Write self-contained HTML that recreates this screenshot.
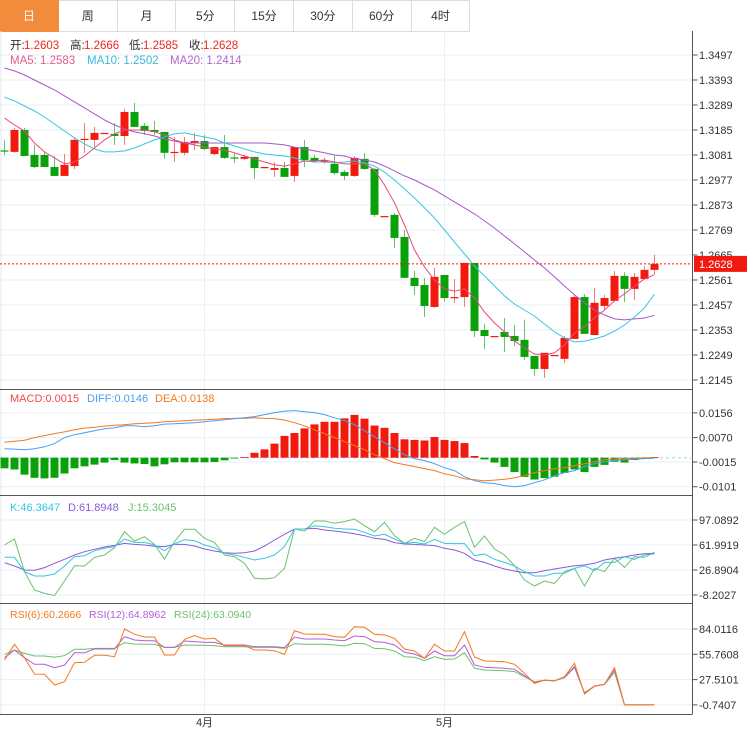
<!DOCTYPE html>
<html><head><meta charset="utf-8">
<style>
body{margin:0;background:#fff;width:747px;height:747px;overflow:hidden;font-family:"Liberation Sans","Noto Sans CJK SC",sans-serif;}
#tabs{position:absolute;left:0;top:0;height:31px;display:flex;}
.tab{width:57.8px;height:30px;border:1px solid #ddd;border-left:none;font-size:12px;line-height:30px;text-align:center;color:#333;}
.tab.on{background:#f38b3c;color:#fff;border-color:#f38b3c;}
svg{position:absolute;left:0;top:0;}
</style></head><body>
<div id="tabs">
<div class="tab on">日</div>
<div class="tab">周</div>
<div class="tab">月</div>
<div class="tab">5分</div>
<div class="tab">15分</div>
<div class="tab">30分</div>
<div class="tab">60分</div>
<div class="tab">4时</div>
</div>
<svg id="chart" width="747" height="747" style="top:0"></svg>
<script>
const opens=[1.3100,1.3094,1.3185,1.3081,1.3081,1.3031,1.2994,1.3035,1.3144,1.3144,1.3171,1.3169,1.3160,1.3260,1.3202,1.3185,1.3177,1.3092,1.3090,1.3131,1.3139,1.3085,1.3114,1.3071,1.3065,1.3073,1.3029,1.3019,1.3027,1.2994,1.3114,1.3069,1.3056,1.3044,1.3010,1.2994,1.3065,1.3023,1.2825,1.2832,1.2740,1.2570,1.2540,1.2449,1.2582,1.2488,1.2490,1.2632,1.2353,1.2326,1.2345,1.2328,1.2312,1.2245,1.2191,1.2247,1.2233,1.2316,1.2490,1.2332,1.2453,1.2474,1.2578,1.2524,1.2565,1.2603];
const closes=[1.3096,1.3185,1.3077,1.3031,1.3031,1.2994,1.3040,1.3144,1.3148,1.3173,1.3173,1.3160,1.3260,1.3198,1.3181,1.3177,1.3090,1.3094,1.3135,1.3139,1.3106,1.3114,1.3069,1.3069,1.3073,1.3027,1.3031,1.3027,1.2990,1.3114,1.3060,1.3056,1.3058,1.3006,1.2994,1.3069,1.3023,1.2832,1.2827,1.2736,1.2570,1.2536,1.2453,1.2574,1.2486,1.2490,1.2632,1.2349,1.2328,1.2328,1.2324,1.2307,1.2241,1.2191,1.2258,1.2249,1.2320,1.2490,1.2337,1.2466,1.2486,1.2578,1.2524,1.2574,1.2603,1.2628];
const highs=[1.3144,1.3194,1.3194,1.3123,1.3094,1.3077,1.3085,1.3156,1.3214,1.3198,1.3173,1.3214,1.3273,1.3298,1.3214,1.3223,1.3177,1.3156,1.3156,1.3173,1.3164,1.3114,1.3164,1.3090,1.3081,1.3073,1.3031,1.3052,1.3052,1.3114,1.3144,1.3081,1.3069,1.3081,1.3019,1.3077,1.3090,1.3027,1.2827,1.2840,1.2769,1.2599,1.2570,1.2611,1.2582,1.2565,1.2632,1.2632,1.2378,1.2328,1.2403,1.2374,1.2395,1.2245,1.2258,1.2249,1.2328,1.2499,1.2503,1.2528,1.2499,1.2599,1.2594,1.2590,1.2619,1.2666];
const lows=[1.3081,1.3090,1.3077,1.3027,1.3031,1.2994,1.2994,1.3023,1.3090,1.3114,1.3169,1.3123,1.3123,1.3198,1.3164,1.3164,1.3065,1.3052,1.3081,1.3102,1.3102,1.3081,1.3065,1.3048,1.3060,1.2981,1.3027,1.2990,1.2990,1.2969,1.3031,1.3048,1.3044,1.2998,1.2977,1.2990,1.3019,1.2823,1.2823,1.2694,1.2570,1.2499,1.2407,1.2445,1.2470,1.2466,1.2449,1.2324,1.2274,1.2324,1.2262,1.2287,1.2228,1.2162,1.2154,1.2245,1.2216,1.2316,1.2337,1.2332,1.2436,1.2474,1.2470,1.2478,1.2565,1.2585];
const ma5=[1.3235,1.3206,1.3181,1.3131,1.3094,1.3069,1.3044,1.3052,1.3077,1.3110,1.3144,1.3169,1.3185,1.3185,1.3185,1.3177,1.3164,1.3144,1.3131,1.3123,1.3114,1.3106,1.3102,1.3090,1.3077,1.3065,1.3052,1.3040,1.3035,1.3044,1.3056,1.3056,1.3060,1.3052,1.3044,1.3044,1.3044,1.3019,1.2956,1.2882,1.2790,1.2686,1.2615,1.2561,1.2524,1.2515,1.2524,1.2486,1.2428,1.2382,1.2345,1.2307,1.2278,1.2253,1.2249,1.2258,1.2291,1.2341,1.2366,1.2403,1.2436,1.2474,1.2503,1.2536,1.2565,1.2583];
const ma10=[1.3322,1.3306,1.3285,1.3264,1.3239,1.3210,1.3181,1.3152,1.3127,1.3106,1.3094,1.3094,1.3098,1.3110,1.3127,1.3144,1.3156,1.3169,1.3173,1.3164,1.3156,1.3148,1.3131,1.3119,1.3106,1.3094,1.3085,1.3081,1.3077,1.3069,1.3056,1.3052,1.3052,1.3048,1.3052,1.3056,1.3048,1.3035,1.3010,1.2977,1.2940,1.2902,1.2861,1.2819,1.2769,1.2719,1.2669,1.2619,1.2578,1.2536,1.2495,1.2461,1.2436,1.2411,1.2378,1.2345,1.2320,1.2303,1.2307,1.2316,1.2328,1.2349,1.2374,1.2407,1.2445,1.2502];
const ma20=[1.3443,1.3431,1.3414,1.3393,1.3372,1.3352,1.3327,1.3302,1.3277,1.3252,1.3227,1.3206,1.3189,1.3177,1.3169,1.3160,1.3148,1.3139,1.3131,1.3131,1.3131,1.3131,1.3131,1.3131,1.3131,1.3131,1.3131,1.3127,1.3123,1.3114,1.3106,1.3098,1.3090,1.3081,1.3077,1.3065,1.3060,1.3052,1.3035,1.3015,1.2994,1.2977,1.2956,1.2936,1.2911,1.2886,1.2861,1.2836,1.2807,1.2777,1.2744,1.2711,1.2678,1.2644,1.2611,1.2574,1.2536,1.2499,1.2466,1.2436,1.2416,1.2399,1.2395,1.2399,1.2403,1.2414];
const macdHist=[-0.0037,-0.0041,-0.0059,-0.0070,-0.0072,-0.0070,-0.0055,-0.0037,-0.0030,-0.0024,-0.0017,-0.0008,-0.0017,-0.0020,-0.0022,-0.0030,-0.0023,-0.0016,-0.0016,-0.0016,-0.0016,-0.0015,-0.0009,-0.0002,0.0002,0.0017,0.0029,0.0049,0.0076,0.0086,0.0102,0.0116,0.0125,0.0125,0.0137,0.0149,0.0136,0.0112,0.0104,0.0086,0.0064,0.0062,0.0060,0.0072,0.0062,0.0058,0.0051,0.0006,-0.0006,-0.0017,-0.0032,-0.0050,-0.0067,-0.0076,-0.0071,-0.0066,-0.0053,-0.0041,-0.0050,-0.0032,-0.0025,-0.0014,-0.0017,-0.0008,-0.0002,0.0002];
const diffVals=[0.0031,0.0030,0.0028,0.0031,0.0038,0.0049,0.0070,0.0080,0.0087,0.0094,0.0101,0.0104,0.0111,0.0111,0.0108,0.0111,0.0117,0.0118,0.0120,0.0122,0.0125,0.0129,0.0132,0.0136,0.0139,0.0143,0.0150,0.0157,0.0162,0.0164,0.0160,0.0157,0.0150,0.0139,0.0129,0.0115,0.0094,0.0073,0.0052,0.0031,0.0010,-0.0003,-0.0010,-0.0021,-0.0035,-0.0045,-0.0066,-0.0080,-0.0087,-0.0090,-0.0097,-0.0101,-0.0097,-0.0087,-0.0077,-0.0063,-0.0052,-0.0045,-0.0031,-0.0021,-0.0014,-0.0010,-0.0007,-0.0005,-0.0003,-0.0002];
const deaVals=[0.0054,0.0057,0.0061,0.0070,0.0077,0.0084,0.0090,0.0097,0.0103,0.0106,0.0110,0.0113,0.0115,0.0118,0.0120,0.0122,0.0125,0.0127,0.0129,0.0131,0.0132,0.0134,0.0136,0.0137,0.0137,0.0139,0.0137,0.0136,0.0131,0.0122,0.0111,0.0097,0.0084,0.0070,0.0056,0.0042,0.0028,0.0010,-0.0003,-0.0017,-0.0024,-0.0031,-0.0038,-0.0045,-0.0056,-0.0063,-0.0073,-0.0077,-0.0080,-0.0078,-0.0075,-0.0070,-0.0063,-0.0052,-0.0045,-0.0038,-0.0035,-0.0028,-0.0021,-0.0014,-0.0007,-0.0005,-0.0003,-0.0002,0,0];
const kVals=[44.7,44.7,24.6,18.5,18.5,21.3,32.5,45.6,47.0,54.0,57.3,59.7,70.4,65.7,65.7,62.0,54.0,63.4,69.5,68.1,62.0,58.2,50.3,47.9,44.7,40.9,43.3,47.9,59.7,84.5,84.5,89.1,87.7,85.4,84.5,84.0,79.8,74.6,77.0,70.4,64.3,65.7,63.4,69.9,64.3,63.9,63.9,47.0,49.4,41.9,37.6,32.5,24.6,18.5,18.5,22.2,22.2,29.2,33.0,26.0,37.6,37.6,45.6,41.9,47.9,49.8];
const dVals=[37.2,32.5,26.9,26.4,30.2,36.3,41.9,47.9,52.6,55.9,59.2,61.5,64.3,62.9,62.0,60.1,59.7,62.9,62.9,60.6,56.4,53.6,51.2,50.3,51.2,53.6,60.6,69.0,77.0,84.5,84.5,85.4,83.1,81.6,79.8,77.9,75.1,71.4,69.9,65.3,63.4,62.9,62.0,61.1,57.3,55.0,50.3,40.9,37.6,32.5,28.3,25.5,23.1,23.1,25.9,28.3,30.6,33.0,33.9,36.3,40.9,43.3,45.6,47.9,49.8,50.3];
const jVals=[62.0,70.4,24.6,-1.2,-5.9,-9.1,11.4,33.0,32.5,44.6,47.9,58.2,80.7,67.6,73.7,62.9,42.3,66.7,84.0,84.0,71.4,65.7,47.9,45.6,36.3,15.2,14.3,16.1,29.2,84.5,81.6,95.7,95.7,92.4,94.8,98.5,89.1,80.7,93.8,75.1,64.3,71.4,66.7,86.8,77.0,86.8,94.8,58.7,74.6,56.4,47.9,33.0,12.9,4.4,11.4,8.1,24.6,29.2,4.4,29.2,24.6,43.3,30.6,45.6,44.7,51.7];
const rsi6=[49.4,66.9,52.0,33.7,33.4,21.5,25.2,46.4,46.8,54.6,54.6,53.1,84.0,78.1,75.1,75.1,55.0,55.0,72.5,76.6,72.8,73.6,65.4,65.4,65.4,60.6,60.6,59.8,55.7,82.2,78.4,78.1,78.1,75.5,74.7,86.6,85.9,78.1,77.3,73.6,61.7,59.4,51.3,66.9,59.4,59.4,81.0,52.7,48.3,47.9,47.5,44.6,34.5,23.3,27.0,25.9,30.8,45.7,11.4,20.4,22.2,40.8,-0.74,-0.74,-0.74,-0.74];
const rsi12=[52.0,60.6,52.0,44.6,44.6,40.8,43.8,57.6,57.6,61.7,61.7,61.7,75.5,71.7,71.0,71.0,63.5,63.5,70.6,69.9,69.1,69.1,66.1,66.1,66.1,64.3,64.3,64.3,63.2,75.1,72.8,72.8,72.8,71.7,71.0,76.2,75.5,69.9,69.1,66.1,58.0,56.1,51.3,59.4,54.2,54.2,66.1,43.8,41.2,40.8,40.1,39.0,31.9,24.1,26.7,26.3,30.0,41.9,12.2,20.0,22.2,38.2,-0.74,-0.74,-0.74,-0.74];
const rsi24=[55.7,60.6,56.8,53.9,53.9,52.4,54.2,61.3,61.3,62.4,62.4,62.4,68.7,67.3,66.9,66.9,63.5,63.5,66.1,65.8,65.8,65.4,64.3,64.3,64.3,63.5,63.5,63.5,62.4,67.6,66.9,66.9,66.9,66.1,65.0,68.0,67.6,62.4,62.0,59.4,53.1,52.4,48.6,53.1,50.1,50.5,57.6,40.1,38.2,37.8,37.5,36.4,30.8,25.2,26.7,26.3,29.6,40.8,12.9,20.4,22.2,35.6,-0.74,-0.74,-0.74,-0.74];
const priceTicks=[1.3497,1.3393,1.3289,1.3185,1.3081,1.2977,1.2873,1.2769,1.2665,1.2561,1.2457,1.2353,1.2249,1.2145];
const macdTicks=[0.0156,0.0070,-0.0015,-0.0101];
const kdjTicks=[97.0892,61.9919,26.8904,-8.2027];
const rsiTicks=[84.0116,55.7608,27.5101,-0.7407];
const monthIdx=[20,44];
const monthLabels=["4月","5月"];
const lastPrice=1.2628;

const NS="http://www.w3.org/2000/svg";
const svg=document.getElementById('chart');
function el(tag,attrs,parent){const e=document.createElementNS(NS,tag);for(const k in attrs)e.setAttribute(k,attrs[k]);(parent||svg).appendChild(e);return e;}
const xC=i=>4.5+10*i;
const yP=p=>55+(1.3497-p)*25/0.0104;
const yM=v=>457.7-v*2872;
const yK=v=>520+(97.0892-v)*25/35.0973;
const yR=v=>629+(84.0116-v)*25.3/28.2508;
const PR=692.5;

function hgrid(ticks,f,fmt,nm){ticks.forEach(t=>{const y=f(t);
 const g=el('line',{x1:0,x2:PR,y1:y,y2:y,stroke:'#e9eff4','stroke-width':1});
 
 el('line',{x1:PR,x2:PR+5,y1:y,y2:y,stroke:'#555'});
 const tx=el('text',{x:699,y:y+4,'font-size':11,fill:'#333'});tx.textContent=fmt(t);
 });}
hgrid(priceTicks,yP,v=>v.toFixed(4),'price');
hgrid(macdTicks,yM,v=>v.toFixed(4),'macd');
hgrid(kdjTicks,yK,v=>v.toFixed(4),'kdj');
hgrid(rsiTicks,yR,v=>v.toFixed(4),'rsi');
monthIdx.forEach((m,k)=>{const x=xC(m);
 const l=el('line',{x1:x,x2:x,y1:31,y2:714,stroke:'#e9eff4'});
 
 const t=el('text',{x:x,y:726,'font-size':11,fill:'#333','text-anchor':'middle'});t.textContent=monthLabels[k];
 });
el('line',{x1:1,x2:1,y1:31,y2:714,stroke:'#e3e8ec'});
[389.5,495.5,603.5,714.5].forEach(y=>{const s=el('line',{x1:0,x2:PR,y1:y,y2:y,stroke:'#555'});
 });
const ax=el('line',{x1:PR,x2:PR,y1:31,y2:714,stroke:'#555'});


const RED='#f21a0e',GRN='#0aa00a';
opens.forEach((o,i)=>{const c=closes[i];const up=c>=o;const col=up?RED:GRN;const x=xC(i);
 const w=el('line',{x1:x,x2:x,y1:yP(highs[i]),y2:yP(lows[i]),stroke:up?'#f77a72':'#66c266','stroke-width':1});
 
 const top=yP(Math.max(o,c)),bot=yP(Math.min(o,c));
 const b=el('rect',{x:x-4,y:top,width:8,height:Math.max(1.2,bot-top),fill:col});
 });

function line(vals,f,color,nm){const d=vals.map((v,i)=>(i?'L':'M')+xC(i).toFixed(1)+','+f(v).toFixed(1)).join('');
 const p=el('path',{d:d,fill:'none',stroke:color,'stroke-width':1});
 }
line(ma20,yP,'#a858c8','ma20-line');
line(ma10,yP,'#3ac6e0','ma10-line');
line(ma5,yP,'#e84a7f','ma5-line');

const lp=el('line',{x1:0,x2:PR,y1:yP(lastPrice),y2:yP(lastPrice),stroke:'#f21a0e','stroke-dasharray':'2,2'});

const tag=el('rect',{x:694,y:yP(lastPrice)-8,width:53,height:16,fill:'#f21a0e'});

const tt=el('text',{x:699,y:yP(lastPrice)+4,'font-size':11,fill:'#fff'});tt.textContent=lastPrice.toFixed(4);


const z=el('line',{x1:0,x2:PR,y1:yM(0),y2:yM(0),stroke:'#9fd6ee','stroke-dasharray':'3,3'});

macdHist.forEach((v,i)=>{const y0=yM(0),y1=yM(v);
 const r=el('rect',{x:xC(i)-4,y:Math.min(y0,y1),width:8,height:Math.max(0.8,Math.abs(y1-y0)),fill:v>=0?RED:GRN});
 });
line(deaVals,yM,'#f5781c','dea-line');
line(diffVals,yM,'#4a9ff0','diff-line');
line(jVals,yK,'#6cc06c','j-line');
line(dVals,yK,'#8a5cd6','d-line');
line(kVals,yK,'#36c4e0','k-line');
line(rsi24,yR,'#6cc06c','rsi24-line');
line(rsi12,yR,'#b35ed6','rsi12-line');
line(rsi6,yR,'#f5781c','rsi6-line');

function txt(x,y,s,col,nm,fs){const t=el('text',{x:x,y:y,'font-size':fs||11.5,fill:col});t.textContent=s;
 }
txt(10,49,'开:','#333','open-key');txt(24,49,'1.2603','#f2261b','open-value');
txt(70,49,'高:','#333','high-key');txt(84,49,'1.2666','#f2261b','high-value');
txt(129,49,'低:','#333','low-key');txt(143,49,'1.2585','#f2261b','low-value');
txt(189,49,'收:','#333','close-key');txt(203,49,'1.2628','#f2261b','close-value');
txt(10,64,'MA5: 1.2583','#e85a8a','ma5-legend');
txt(87,64,'MA10: 1.2502','#3bb9d9','ma10-legend');
txt(170,64,'MA20: 1.2414','#b066cc','ma20-legend');
txt(10,402,'MACD:0.0015','#f04848','macd-legend',11);
txt(87,402,'DIFF:0.0146','#4a9ff0','diff-legend',11);
txt(155,402,'DEA:0.0138','#f5781c','dea-legend',11);
txt(10,511,'K:46.3647','#36c4e0','k-legend',11);
txt(68,511,'D:61.8948','#8a5cd6','d-legend',11);
txt(128,511,'J:15.3045','#6cc06c','j-legend',11);
txt(10,618,'RSI(6):60.2666','#f5781c','rsi6-legend',10.5);
txt(89,618,'RSI(12):64.8962','#b35ed6','rsi12-legend',10.5);
txt(174,618,'RSI(24):63.0940','#6cc06c','rsi24-legend',10.5);
</script>
</body></html>
